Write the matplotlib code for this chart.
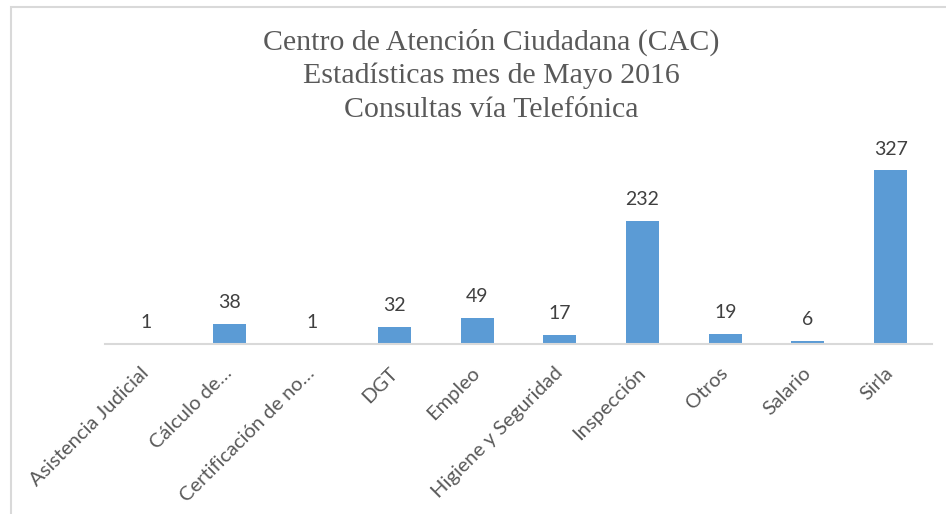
import matplotlib
matplotlib.use("Agg")
from matplotlib import pyplot as plt
from matplotlib.patches import Rectangle

categories = [
    "Asistencia Judicial",
    "Cálculo de…",
    "Certificación de no…",
    "DGT",
    "Empleo",
    "Higiene y Seguridad",
    "Inspección",
    "Otros",
    "Salario",
    "Sirla",
]
consultas = [1, 38, 1, 32, 49, 17, 232, 19, 6, 327]
title_lines = [
    "Centro de Atención Ciudadana (CAC)",
    "Estadísticas mes de Mayo 2016",
    "Consultas vía Telefónica",
]

W, H = 946, 514
fig = plt.figure(figsize=(W / 100, H / 100), dpi=100)
fig.patch.set_facecolor("white")

# light frame around the chart (runs off the right and bottom edges)
fig.patches.append(Rectangle((11 / W, -0.1), 1.2, (H - 7) / H + 0.1,
                             transform=fig.transFigure, fill=False,
                             edgecolor="#d9d9d9", linewidth=1.5))

# plot area in pixel terms: x 105..932, baseline at y=344
ax = fig.add_axes([105 / W, (H - 344) / H, 827 / W, 204 / H])
x = range(len(categories))
ax.bar(x, consultas, width=0.4, color="#5b9bd5")
ax.set_xlim(-0.5, len(categories) - 0.5)
ax.set_ylim(0, 204 / 0.532)

for xi, v in zip(x, consultas):
    ax.annotate(str(v), (xi, v), xytext=(0, 9), textcoords="offset points",
                ha="center", va="bottom", fontsize=14, color="#404040",
                family=["Lato", "DejaVu Sans"])

ax.set_xticks(list(x))
ax.set_xticklabels(categories, rotation=45, ha="right", va="center",
                   rotation_mode="anchor", fontsize=14.5, color="#595959",
                   family=["Lato", "DejaVu Sans"])
ax.tick_params(axis="x", length=0, pad=19)
ax.set_yticks([])
for side in ["left", "right", "top"]:
    ax.spines[side].set_visible(False)
ax.spines["bottom"].set_color("#d9d9d9")
ax.spines["bottom"].set_linewidth(1.5)

for i, line in enumerate(title_lines):
    fig.text(491 / W, 1 - (42 + 34 * i) / H, line, ha="center", va="center",
             fontsize=21.5, color="#595959", family="Liberation Serif")

fig.savefig("out.png", dpi=100)
